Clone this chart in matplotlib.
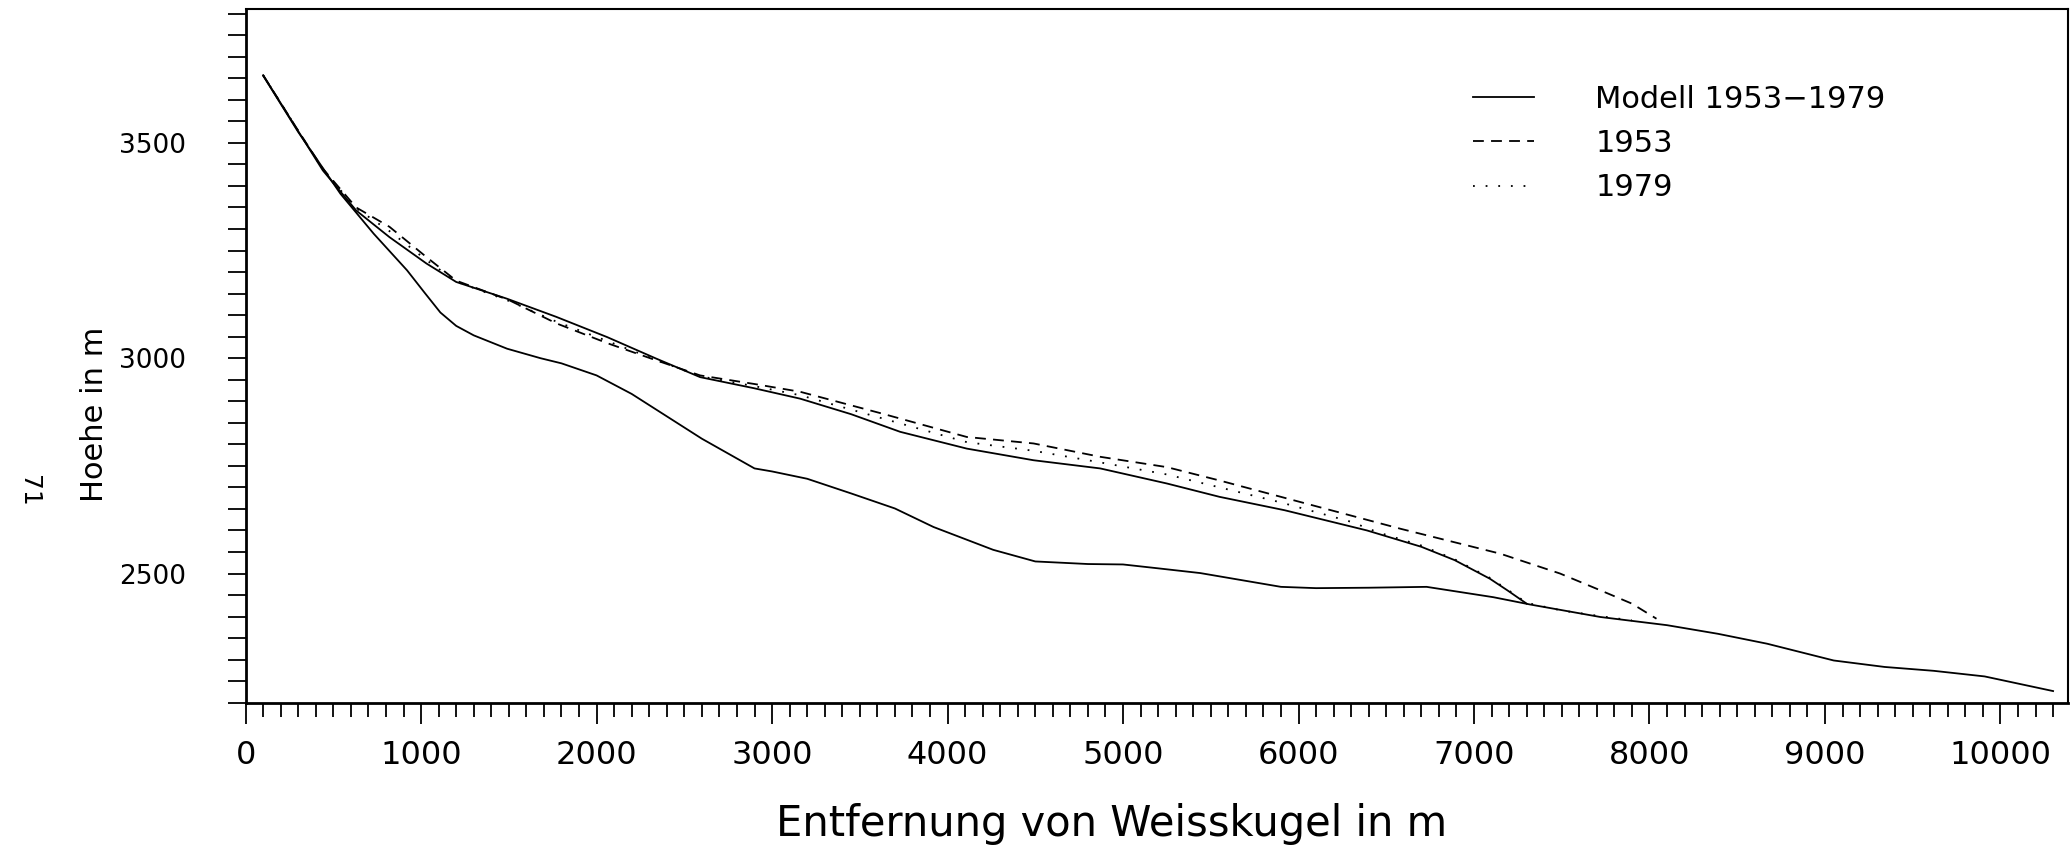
import matplotlib
matplotlib.use("Agg")
import matplotlib.pyplot as plt
from matplotlib.ticker import MultipleLocator

# Hoehenprofile entlang der Fliesslinie (Entfernung von Weisskugel in m, Hoehe in m)
bed_x = [100, 300, 540, 730, 920, 1020, 1110, 1200, 1300, 1490, 1680, 1800, 2000, 2200, 2400,
         2600, 2800, 2900, 3000, 3200, 3450, 3700, 3920, 4260, 4500, 4800, 5000, 5200, 5440,
         5900, 6100, 6400, 6730, 7110, 7320, 7720, 8100, 8390, 8670, 9050, 9340, 9620,
         9910, 10300]
bed_h = [3656, 3525, 3382, 3289, 3204, 3152, 3106, 3075, 3053, 3022, 3000, 2988, 2960, 2917, 2865,
         2813, 2767, 2744, 2737, 2720, 2686, 2651, 2608, 2555, 2528, 2522, 2521, 2512, 2501,
         2469, 2466, 2467, 2469, 2445, 2428, 2399, 2380, 2360, 2337, 2298, 2283, 2274,
         2261, 2227]

model_x = [100, 300, 440, 630, 820, 1030, 1200, 1490, 1770, 2060, 2340, 2590, 2900, 3160,
           3450, 3730, 4110, 4490, 4870, 5250, 5550, 5920, 6390, 6700, 6890, 7090, 7190, 7300]
model_h = [3657, 3527, 3436, 3343, 3281, 3220, 3177, 3138, 3096, 3049, 2999, 2956, 2930, 2906,
           2870, 2829, 2790, 2763, 2744, 2709, 2678, 2647, 2600, 2562, 2531, 2488, 2461, 2430]

y1953_x = [100, 300, 440, 630, 820, 1030, 1200, 1500, 1770, 2060, 2340, 2590, 2900, 3160,
           3630, 4110, 4490, 4870, 5250, 5550, 6010, 6580, 7150, 7490, 7720, 7900, 8040]
y1953_h = [3657, 3528, 3440, 3350, 3305, 3235, 3180, 3135, 3081, 3035, 2995, 2960, 2940, 2922,
           2871, 2817, 2802, 2771, 2747, 2716, 2666, 2604, 2546, 2500, 2461, 2430, 2395]

y1979_x = [100, 300, 440, 630, 820, 1030, 1200, 1500, 1770, 2060, 2340, 2590, 2900, 3160,
           3630, 4110, 4490, 4870, 5250, 5550, 5900, 6300, 6450, 6700, 6890, 7090, 7190, 7300,
           7500, 7720, 7900]
y1979_h = [3657, 3528, 3438, 3348, 3295, 3228, 3178, 3133, 3085, 3040, 2996, 2958, 2935, 2914,
           2860, 2805, 2785, 2758, 2730, 2700, 2665, 2620, 2596, 2565, 2533, 2490, 2463, 2432,
           2414, 2401, 2391]

plt.rcParams["font.family"] = "DejaVu Sans"

fig = plt.figure(figsize=(20.71, 8.5), dpi=100)
ax = fig.add_axes([0.1186, 0.1733, 0.87995, 0.8167])

lw = 1.3
ax.plot(model_x, model_h, color="black", lw=lw, label="Modell 1953\u22121979")
ax.plot(y1953_x, y1953_h, color="black", lw=lw, dashes=(6, 4), label="1953")
ax.plot(y1979_x, y1979_h, color="black", lw=lw, dashes=(1, 6), label="1979")
ax.plot(bed_x, bed_h, color="black", lw=lw)

ax.set_xlim(0, 10385)
ax.set_ylim(2200, 3812)

ax.xaxis.set_major_locator(MultipleLocator(1000))
ax.xaxis.set_minor_locator(MultipleLocator(100))
ax.yaxis.set_major_locator(MultipleLocator(500))
ax.yaxis.set_minor_locator(MultipleLocator(50))

ax.tick_params(axis="x", which="major", direction="out", length=15, width=1.3, pad=12, labelsize=23)
ax.tick_params(axis="x", which="minor", direction="out", length=10, width=1.3)
ax.tick_params(axis="y", which="major", direction="out", length=13, width=1.3, pad=30, labelsize=19)
ax.tick_params(axis="y", which="minor", direction="out", length=13, width=1.3)

for s in ["left", "bottom"]:
    ax.spines[s].set_linewidth(2)
for s in ["top", "right"]:
    ax.spines[s].set_linewidth(1.5)

ax.set_xlabel("Entfernung von Weisskugel in m", fontsize=30)
ax.xaxis.set_label_coords(0.475, -0.145)
ax.set_ylabel("Hoehe in m", fontsize=22)
ax.yaxis.set_label_coords(-0.075, 0.416)

ax.legend(loc="upper left", bbox_to_anchor=(0.6735, 0.89), frameon=False, fontsize=22,
          handlelength=2.0, handletextpad=2.0, labelspacing=0.5, borderpad=0, borderaxespad=0)

fig.text(29 / 2071, 1 - 491 / 850, "71", rotation=270, fontsize=18, ha="center", va="center")

plt.savefig("out.png", dpi=100)
